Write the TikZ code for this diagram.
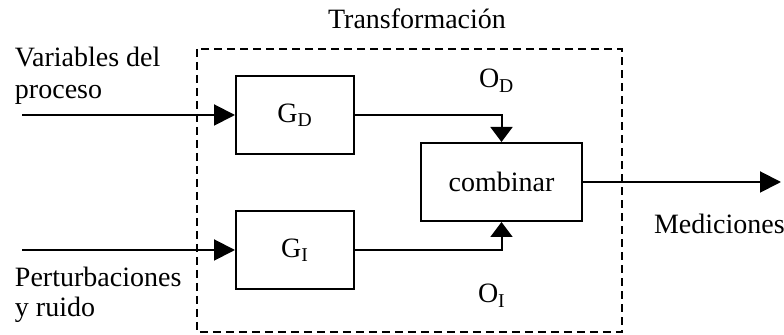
\documentclass[tikz,border=0pt]{standalone}
\usepackage{fontspec}
\setmainfont{Liberation Serif}
\usetikzlibrary{arrows.meta}

\begin{document}
\begin{tikzpicture}[x=0.5pt,y=-0.5pt,
  font=\fontsize{14}{16}\selectfont, line width=1pt,
  bloque/.style={draw, minimum width=59pt, minimum height=39pt, inner sep=0pt},
  flecha/.style={-{Triangle[length=10.5pt,width=10.5pt]}},
  flechav/.style={-{Triangle[length=7.5pt,width=11pt]}},
  etiqueta/.style={anchor=base west, inner sep=0pt}]
\useasboundingbox (0,0) rectangle (784,335);

% marco de la transformacion
\draw[line width=0.9pt, dash pattern=on 4pt off 2.5pt] (197,49) rectangle (622,332);
\node[anchor=base, inner sep=0pt] (trans) at (417,29) {Transformación};

% bloques
\node[bloque] (gd) at (295,115) {G\textsubscript{D}};
\node[bloque] (gi) at (295,250) {G\textsubscript{I}};
\node[bloque, minimum width=80.5pt] (comb) at (501.5,182) {combinar};

% entradas y salida
\coordinate (ent1) at (22,115);
\coordinate (ent2) at (22,250);
\coordinate (sal) at (781,182);
\draw[flecha] (ent1) -- (gd);
\draw[flecha] (ent2) -- (gi);
\draw[flechav] (gd.east) -| (comb.north);
\draw[flechav] (gi.east) -| (comb.south);
\draw[flecha] (comb.east) -- (sal);

% textos
\node[etiqueta] (var1) at (14,67) {Variables del};
\node[etiqueta] (var2) at (14,99) {proceso};
\node[etiqueta] (per1) at (14,287) {Perturbaciones};
\node[etiqueta] (per2) at (14,317) {y ruido};
\node[etiqueta] (od) at (478,88) {O\textsubscript{D}};
\node[etiqueta] (oi) at (477,303) {O\textsubscript{I}};
\node[etiqueta] (med) at (653,234) {Mediciones};
\end{tikzpicture}
\end{document}
